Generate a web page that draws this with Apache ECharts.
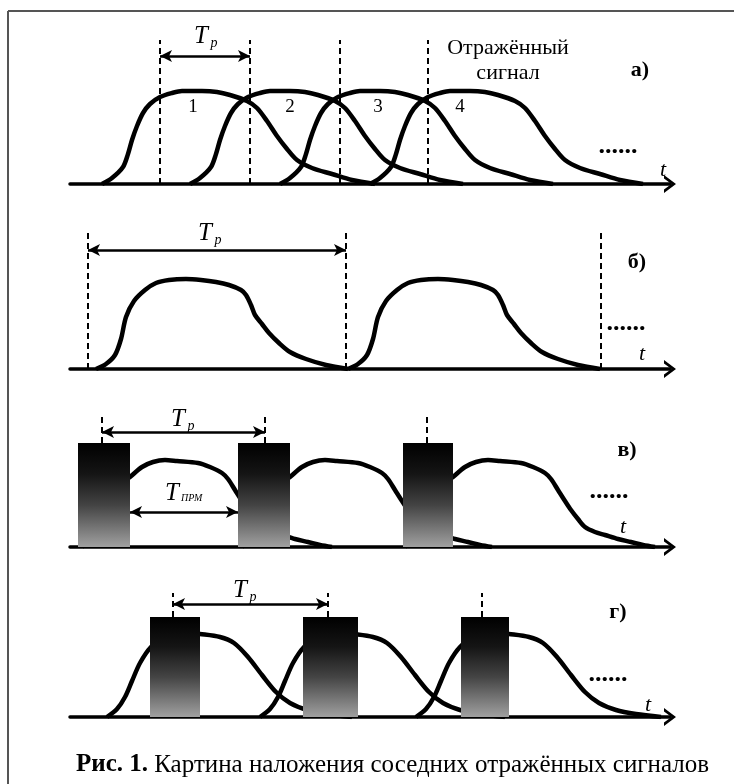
<!DOCTYPE html>
<html>
<head>
<meta charset="utf-8">
<script src="https://cdn.jsdelivr.net/npm/echarts@6/dist/echarts.min.js"></script>
<style>
html, body { margin: 0; padding: 0; background: #fff; }
#chart { width: 734px; height: 784px; }
</style>
</head>
<body>
<div id="chart"></div>
<script>
// time axis in arbitrary units (0..600), amplitude in units above the baseline

// а) overlapping echoes, one pulse shape repeated every T_p
var pulseA = [[0,0],[10,6],[21,17],[26,30],[30,44],[35,58],[41,71],[48,80],[58,87],[70,91],[80,93],[100,93],[115,92],[128,89],[145,83],[155,76],[165,63],[175,48],[185,35],[195,24],[210,16],[230,10],[250,4],[273,0]];
var startsA = [32, 120, 210, 300];
var marksA = [90, 180, 270, 358];

// б) period longer than the echo
var pulseB = [[0,0],[10,5],[19,14],[25,30],[30,52],[38,68],[49,79],[60,86],[73,89],[90,90],[105,89],[120,87],[133,84],[145,79],[150,74],[155,64],[159,54],[166,45],[173,36],[183,26],[194,17],[210,10],[230,4],[252,0]];
var startsB = [26, 278];
var marksB = [18, 276, 531];

// в) receiver blanked during transmit pulse
var pulseC = [[-48,0],[-35,18],[-22,45],[-10,62],[0,70],[12,80],[23,85],[35,87],[47,86],[68,84],[80,80],[92,74],[98,68],[105,57],[112,46],[118,37],[125,28],[132,20],[142,15],[152,12],[165,8],[178,5],[190,2],[202,0]];
var startsC = [60, 220, 383];
var txC = [[8,60],[168,220],[333,383]];
var txHeightC = 104;
var marksC = [32, 195, 357];

// г) transmit pulses over the echoes
var pulseD = [[0,0],[10,8],[18,20],[25,36],[33,54],[44,70],[60,82],[75,85],[93,83],[113,80],[127,74],[141,60],[155,42],[169,25],[183,14],[200,7],[220,3],[245,0]];
var startsD = [37, 190, 346];
var txD = [[80,130],[233,288],[391,439]];
var txHeightD = 100;
var marksD = [103, 258, 412];

var chart = echarts.init(document.getElementById('chart'));

var serif = '"Liberation Serif", "Times New Roman", serif';
var axisArrow = 'path://M0,12 L9,0 L18,12 L14.5,12 L9,4.5 L3.5,12 Z';

var panels = [
  {top: 40, height: 144, pulse: pulseA, starts: startsA, marks: marksA, dash: [0, 144], tp: 128},
  {top: 232, height: 137, pulse: pulseB, starts: startsB, marks: marksB, dash: [0, 137], tp: 119},
  {top: 416, height: 131, pulse: pulseC, starts: startsC, marks: marksC, dash: [104, 131], tp: 115, tx: txC, txH: txHeightC},
  {top: 593, height: 124, pulse: pulseD, starts: startsD, marks: marksD, dash: [100, 124], tp: 113, tx: txD, txH: txHeightD}
];

var grids = [], xAxes = [], yAxes = [], series = [];

function shifted(tpl, s) {
  return tpl.map(function (p) { return [p[0] + s, p[1]]; });
}

var txFill = new echarts.graphic.LinearGradient(0, 0, 0, 1, [
  {offset: 0, color: '#000'},
  {offset: 0.3, color: '#151515'},
  {offset: 0.6, color: '#444'},
  {offset: 1, color: '#a0a0a0'}
]);

panels.forEach(function (p, i) {
  grids.push({left: 70, width: 600, top: p.top, height: p.height});
  xAxes.push({
    type: 'value', gridIndex: i, min: 0, max: 600,
    axisLine: {show: true, lineStyle: {color: '#000', width: 3.5}, symbol: ['none', axisArrow], symbolSize: [18, 12]},
    axisTick: {show: false}, axisLabel: {show: false}, splitLine: {show: false}
  });
  yAxes.push({type: 'value', gridIndex: i, min: 0, max: p.height, show: false});

  p.starts.forEach(function (s) {
    series.push({
      type: 'line', xAxisIndex: i, yAxisIndex: i,
      data: shifted(p.pulse, s),
      smooth: 0.3, symbol: 'none', silent: true, z: 2,
      lineStyle: {color: '#000', width: 4.5}
    });
  });

  // dashed period markers and T_p arrows
  var ml = p.marks.map(function (m) {
    return [{coord: [m, p.dash[0]], symbol: 'none'}, {coord: [m, p.dash[1]], symbol: 'none'}];
  });
  var arrowStyle = {type: 'solid', width: 2.5, color: '#000'};
  ml.push([{coord: [p.marks[0], p.tp], lineStyle: arrowStyle}, {coord: [p.marks[1], p.tp]}]);
  if (i === 2) {
    ml.push([{coord: [txC[0][1], 35], lineStyle: arrowStyle}, {coord: [txC[1][0], 35]}]);
  }
  series.push({
    type: 'line', xAxisIndex: i, yAxisIndex: i, data: [], silent: true,
    markLine: {
      silent: true, symbol: ['arrow', 'arrow'], symbolSize: [9, 12],
      label: {show: false},
      lineStyle: {type: [6, 4], width: 2, color: '#000'},
      data: ml
    }
  });

  if (p.tx) {
    series.push({
      type: 'custom', xAxisIndex: i, yAxisIndex: i, z: 5, silent: true,
      data: p.tx.map(function (r) { return [r[0], r[1], p.txH]; }),
      renderItem: function (params, api) {
        var a = api.coord([api.value(0), api.value(2)]);
        var b = api.coord([api.value(1), 0]);
        return {type: 'rect', shape: {x: a[0], y: a[1], width: b[0] - a[0], height: b[1] - a[1]}, style: {fill: txFill}};
      }
    });
  }
});

function txt(x, y, s, size, extra) {
  var st = {text: s, x: x, y: y, font: (extra && extra.font ? extra.font + ' ' : '') + size + 'px ' + serif,
    fill: '#000', align: (extra && extra.align) || 'center', verticalAlign: 'middle'};
  return {type: 'text', z: 10, style: st};
}

var graphics = [
  {type: 'line', shape: {x1: 8, y1: 11, x2: 734, y2: 11}, style: {stroke: '#555', lineWidth: 2}},
  {type: 'line', shape: {x1: 8, y1: 11, x2: 8, y2: 784}, style: {stroke: '#555', lineWidth: 2}},

  // а)
  txt(201, 36, 'T', 25, {font: 'italic'}), txt(214, 43, 'p', 14, {font: 'italic'}),
  txt(508, 48, 'Отражённый', 22), txt(508, 73, 'сигнал', 22),
  txt(640, 70, 'а)', 22, {font: 'bold'}),
  txt(193, 107, '1', 19), txt(290, 107, '2', 19), txt(378, 107, '3', 19), txt(460, 107, '4', 19),
  txt(618, 146, '......', 26, {font: 'bold'}),
  txt(663, 170, 't', 22, {font: 'italic'}),

  // б)
  txt(205, 233, 'T', 25, {font: 'italic'}), txt(218, 240, 'p', 14, {font: 'italic'}),
  txt(637, 262, 'б)', 22, {font: 'bold'}),
  txt(626, 323, '......', 26, {font: 'bold'}),
  txt(642, 354, 't', 22, {font: 'italic'}),

  // в)
  txt(178, 419, 'T', 25, {font: 'italic'}), txt(191, 426, 'p', 14, {font: 'italic'}),
  txt(172, 493, 'T', 25, {font: 'italic'}), txt(181, 498, 'ПРМ', 10, {font: 'italic', align: 'left'}),
  txt(627, 450, 'в)', 22, {font: 'bold'}),
  txt(609, 491, '......', 26, {font: 'bold'}),
  txt(623, 527, 't', 22, {font: 'italic'}),

  // г)
  txt(240, 590, 'T', 25, {font: 'italic'}), txt(253, 597, 'p', 14, {font: 'italic'}),
  txt(618, 612, 'г)', 22, {font: 'bold'}),
  txt(608, 674, '......', 26, {font: 'bold'}),
  txt(648, 705, 't', 22, {font: 'italic'}),

  {type: 'text', z: 10, style: {
    x: 76, y: 765, text: '{b|Рис. 1.} Картина наложения соседних отражённых сигналов',
    font: '25px ' + serif, fill: '#000', align: 'left', verticalAlign: 'middle',
    rich: {b: {fontWeight: 'bold', fontSize: 25, fontFamily: serif}}
  }}
];

var option = {
  animation: false,
  backgroundColor: '#fff',
  grid: grids,
  xAxis: xAxes,
  yAxis: yAxes,
  series: series,
  graphic: graphics
};

chart.setOption(option);
</script>
</body>
</html>
